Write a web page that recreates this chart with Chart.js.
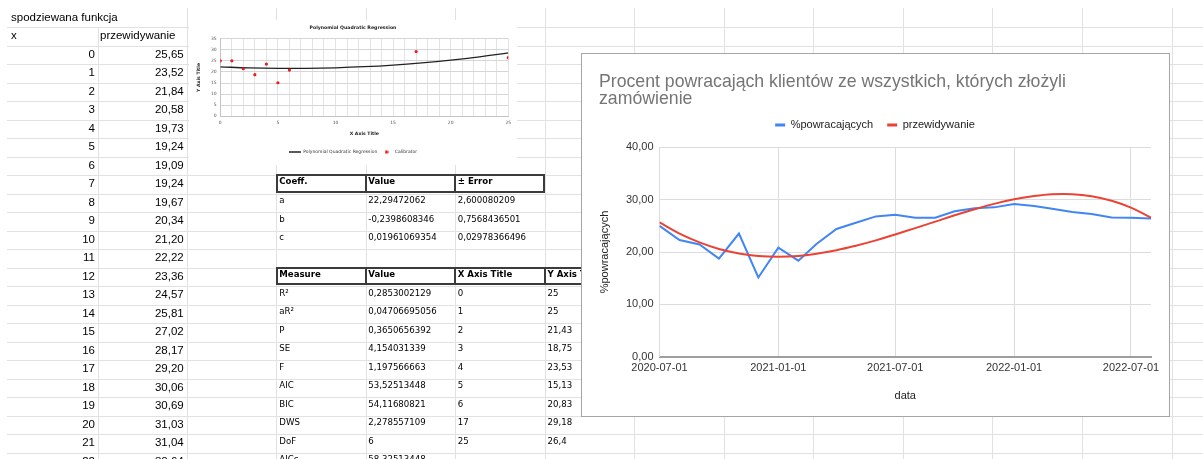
<!DOCTYPE html>
<html>
<head>
<meta charset="utf-8">
<script src="https://cdn.jsdelivr.net/npm/chart.js@4.4.1/dist/chart.umd.min.js"></script>
<style>
html, body { margin: 0; padding: 0; background: #fff; }
body { position: relative; width: 1203px; height: 459px; overflow: hidden; }
#grid { position: absolute; left: 0; top: 0; }
.c { position: absolute; height: 18.5px; line-height: 18.5px; white-space: nowrap; color: #000; }
.ar { font-family: "Liberation Sans", Arial, sans-serif; font-size: 11.5px; }
.tv { font-family: "DejaVu Sans", Verdana, sans-serif; font-size: 8.6px; }
.b { font-weight: bold; }
.hdr { position: absolute; box-sizing: border-box; border: 2px solid #3b3b3b; }
.sep { position: absolute; width: 2px; background: #3b3b3b; }
#reg { position: absolute; left: 189px; top: 20px; background: #fff; }
#box { position: absolute; left: 581px; top: 53px; width: 587px; height: 362px; border: 1px solid #a5a5a5; background: #fff; }
#main { position: absolute; left: 0; top: 0; }
</style>
</head>
<body>
<canvas id="grid" width="1203" height="459"></canvas>
<div id="cells"></div>
<canvas id="reg" width="328" height="145"></canvas>
<div id="box"><canvas id="main" width="587" height="362"></canvas></div>
<script>
// main chart data
const dates = ['2020-07-01','2020-08-01','2020-09-01','2020-10-01','2020-11-01','2020-12-01',
  '2021-01-01','2021-02-01','2021-03-01','2021-04-01','2021-05-01','2021-06-01',
  '2021-07-01','2021-08-01','2021-09-01','2021-10-01','2021-11-01','2021-12-01',
  '2022-01-01','2022-02-01','2022-03-01','2022-04-01','2022-05-01','2022-06-01',
  '2022-07-01','2022-08-01'];
const powracajacych = [25.0, 22.3, 21.43, 18.75, 23.53, 15.13, 20.83, 18.34, 21.53, 24.4, 25.6, 26.8,
  27.13, 26.55, 26.55, 27.77, 28.34, 28.53, 29.17, 28.79, 28.25, 27.64, 27.26, 26.6, 26.55, 26.4];
const przewidywanie = [25.65, 23.52, 21.84, 20.58, 19.73, 19.24, 19.09, 19.24, 19.67, 20.34, 21.20, 22.22,
  23.36, 24.57, 25.81, 27.02, 28.17, 29.20, 30.06, 30.69, 31.03, 31.04, 30.64, 29.78, 28.47, 26.55];
const xTickDates = ['2020-07-01', '2021-01-01', '2021-07-01', '2022-01-01', '2022-07-01'];
const yTickLabels = ['0,00', '10,00', '20,00', '30,00', '40,00'];
const chartTitle = ['Procent powracająch klientów ze wszystkich, których złożyli', 'zamówienie'];

// regression picture data
const calX = [0, 1, 2, 3, 4, 5, 6, 17, 25];
const calY = [25, 25, 21.43, 18.75, 23.53, 15.13, 20.83, 29.18, 26.4];
const regX = [0, 2.5, 5, 7.5, 10, 12.5, 15, 17.5, 20, 22.5, 25];
const regY = [22.29, 21.82, 21.59, 21.6, 21.86, 22.35, 23.09, 24.1, 25.34, 26.82, 28.55];

// tables
const coeffNames = ['a', 'b', 'c'];
const coeffValues = ['22,29472062', '-0,2398608346', '0,01961069354'];
const coeffErrors = ['2,600080209', '0,7568436501', '0,02978366496'];
const measureNames = ['R²', 'aR²', 'P', 'SE', 'F', 'AIC', 'BIC', 'DWS', 'DoF', 'AICc'];
const measureValues = ['0,2853002129', '0,04706695056', '0,3650656392', '4,154031339', '1,197566663',
  '53,52513448', '54,11680821', '2,278557109', '6', '58,32513448'];

const comma = v => String(v).replace('.', ',');

// sheet grid
const colLines = [97.5, 186.5, 276, 365.6, 455.1, 544.7, 634.2, 723.8, 813.3, 902.9, 992.4, 1082, 1171.5];
const g = document.getElementById('grid').getContext('2d');
g.strokeStyle = '#e1e1e1';
g.lineWidth = 1;
g.beginPath();
for (let y = 27; y < 459; y += 18.5) {
  const py = Math.round(y) + 0.5;
  g.moveTo(7, py); g.lineTo(1203, py);
}
colLines.forEach(x => {
  const px = Math.round(x) + 0.5;
  g.moveTo(px, x < 100 ? 27 : 8); g.lineTo(px, 459);
});
g.stroke();

const cells = document.getElementById('cells');
const rowTop = k => 45.5 + 18.5 * k;
function cell(text, x, w, top, cls, align) {
  const d = document.createElement('div');
  d.className = 'c ' + cls;
  d.style.left = x + 'px';
  d.style.top = top + 'px';
  d.style.width = w + 'px';
  d.style.textAlign = align || 'left';
  d.textContent = text;
  cells.appendChild(d);
}
function header(x, w, k, seps) {
  const d = document.createElement('div');
  d.className = 'hdr';
  d.style.left = x + 'px'; d.style.top = (rowTop(k) - 1) + 'px';
  d.style.width = w + 'px'; d.style.height = '18.5px';
  cells.appendChild(d);
  seps.forEach(sx => {
    const s = document.createElement('div');
    s.className = 'sep';
    s.style.left = (sx - 1) + 'px'; s.style.top = (rowTop(k) - 1) + 'px'; s.style.height = '18.5px';
    cells.appendChild(s);
  });
}

// left table
cell('spodziewana funkcja', 11, 200, rowTop(-2) - 0.6, 'ar');
cell('x', 11, 80, rowTop(-1) - 0.6, 'ar');
cell('przewidywanie', 100, 86, rowTop(-1) - 0.6, 'ar');
for (let i = 0; i <= 22; i++) {
  cell(String(i), 7, 88, rowTop(i) - 0.6, 'ar', 'right');
  cell(przewidywanie[i].toFixed(2).replace('.', ','), 97.5, 86.2, rowTop(i) - 0.6, 'ar', 'right');
}

// coefficient table
header(276, 269, 7, [365.6, 455.1]);
cell('Coeff.', 279.3, 85, rowTop(7) - 2.8, 'tv b');
cell('Value', 368.3, 85, rowTop(7) - 2.8, 'tv b');
cell('± Error', 457.7, 85, rowTop(7) - 2.8, 'tv b');
coeffNames.forEach((n, i) => {
  cell(n, 279.3, 85, rowTop(8 + i) - 2.3, 'tv');
  cell(coeffValues[i], 368.3, 85, rowTop(8 + i) - 2.3, 'tv');
  cell(coeffErrors[i], 457.7, 85, rowTop(8 + i) - 2.3, 'tv');
});

// measure table
header(276, 358, 12, [365.6, 455.1, 544.7]);
cell('Measure', 279.3, 85, rowTop(12) - 2.8, 'tv b');
cell('Value', 368.3, 85, rowTop(12) - 2.8, 'tv b');
cell('X Axis Title', 457.7, 85, rowTop(12) - 2.8, 'tv b');
cell('Y Axis Title', 547.5, 85, rowTop(12) - 2.8, 'tv b');
measureNames.forEach((n, i) => {
  cell(n, 279.3, 85, rowTop(13 + i) - 2.3, 'tv');
  cell(measureValues[i], 368.3, 85, rowTop(13 + i) - 2.3, 'tv');
  if (i < calX.length) {
    cell(String(calX[i]), 457.7, 85, rowTop(13 + i) - 2.3, 'tv');
    cell(comma(calY[i]), 547.5, 85, rowTop(13 + i) - 2.3, 'tv');
  }
});

// small regression chart
const dv = '"DejaVu Sans", Verdana, sans-serif';
const dot = document.createElement('canvas');
dot.width = 4; dot.height = 4;
const dc = dot.getContext('2d');
dc.fillStyle = '#f01818';
dc.beginPath(); dc.arc(2, 2, 1.7, 0, Math.PI * 2); dc.fill();

new Chart(document.getElementById('reg'), {
  type: 'line',
  data: {
    datasets: [
      { label: 'Polynomial Quadratic Regression', data: regX.map((x, i) => ({ x: x, y: regY[i] })),
        borderColor: '#222', backgroundColor: '#222', borderWidth: 1.3, pointRadius: 0, tension: 0.4, order: 1 },
      { label: 'Calibrator', data: calX.map((x, i) => ({ x: x, y: calY[i] })),
        showLine: false, pointRadius: 1.6, pointBorderWidth: 0, pointBackgroundColor: '#f01818',
        borderColor: '#f01818', backgroundColor: '#f01818', order: 0 }
    ]
  },
  options: {
    responsive: false, animation: false, events: [],
    layout: { padding: { left: 0, right: 0, top: 0, bottom: 0.7 } },
    plugins: {
      title: { display: true, text: 'Polynomial Quadratic Regression', color: '#222',
        font: { family: dv, size: 4.65, weight: 'bold', lineHeight: 1.2 }, padding: { top: 4.9, bottom: 8.16 } },
      legend: { position: 'bottom',
        labels: { usePointStyle: true, pointStyleWidth: 12, padding: 3.3, color: '#333', font: { family: dv, size: 4.5 },
          sort: (a, b) => a.datasetIndex - b.datasetIndex,
          generateLabels: chart => Chart.defaults.plugins.legend.labels.generateLabels(chart).map(it => {
            if (it.datasetIndex === 0) { it.pointStyle = 'line'; it.strokeStyle = '#222'; it.lineWidth = 1.5; }
            else { it.pointStyle = dot; }
            return it;
          }) } },
      tooltip: { enabled: false }
    },
    scales: {
      x: { type: 'linear', min: 0, max: 25,
        afterFit: s => { s.height = 30.2; s.paddingRight = 8.7; },
        ticks: { stepSize: 1, autoSkip: false, maxRotation: 0, minRotation: 0, padding: 3.7, color: '#555',
          font: { family: dv, size: 4.5 }, callback: v => (v % 5 === 0 ? String(v) : '') },
        grid: { color: '#e3e3e3', drawTicks: false }, border: { color: '#c4c4c4' },
        title: { display: true, text: 'X Axis Title', color: '#222', font: { family: dv, size: 4.6, weight: 'bold', lineHeight: 1.2 },
          padding: { top: 0, bottom: 9.6 } } },
      y: { min: 0, max: 35,
        afterFit: s => { s.width = 31.3; },
        ticks: { stepSize: 5, padding: 3.6, color: '#555', font: { family: dv, size: 4.5 } },
        grid: { color: '#d6d6d6', drawTicks: false }, border: { color: '#c4c4c4' },
        title: { display: true, text: 'Y Axis Title', color: '#222', font: { family: dv, size: 4.6, weight: 'bold', lineHeight: 1.2 },
          padding: { top: 6.7, bottom: 0 } } }
    }
  }
});

// main chart
const ar = '"Liberation Sans", Arial, sans-serif';
const dayOf = d => (Date.parse(d) - Date.parse(dates[0])) / 864e5;

new Chart(document.getElementById('main'), {
  type: 'line',
  data: {
    datasets: [
      { label: '%powracających', data: dates.map((d, i) => ({ x: dayOf(d), y: powracajacych[i] })),
        borderColor: '#4285f4', backgroundColor: '#4285f4', borderWidth: 2, pointRadius: 0, tension: 0, order: 1 },
      { label: 'przewidywanie', data: dates.map((d, i) => ({ x: dayOf(d), y: przewidywanie[i] })),
        borderColor: '#ea4335', backgroundColor: '#ea4335', borderWidth: 2, pointRadius: 0, tension: 0.4, order: 0 }
    ]
  },
  options: {
    responsive: false, animation: false, events: [],
    layout: { padding: { left: 17, right: 18, top: 0, bottom: 0 } },
    plugins: {
      title: { display: true, text: chartTitle, align: 'start', color: '#757575',
        font: { family: ar, size: 17.7, weight: 'normal', lineHeight: 0.995 }, padding: { top: 18.9, bottom: -2.6 } },
      legend: { position: 'top',
        labels: { boxWidth: 10, boxHeight: 3, padding: 14, color: '#222', font: { family: ar, size: 11 },
          sort: (a, b) => a.datasetIndex - b.datasetIndex,
          generateLabels: chart => Chart.defaults.plugins.legend.labels.generateLabels(chart).map(it => Object.assign(it, { lineWidth: 0 })) } },
      tooltip: { enabled: false }
    },
    scales: {
      x: { type: 'linear', min: 0, max: dayOf(dates[dates.length - 1]),
        afterBuildTicks: s => { s.ticks = xTickDates.map(d => ({ value: dayOf(d) })); },
        afterFit: s => { s.height = 59.3; },
        ticks: { autoSkip: false, maxRotation: 0, minRotation: 0, padding: 5, color: '#333',
          font: { family: ar, size: 11 }, callback: (v, i) => xTickDates[i] },
        grid: { color: '#dcdcdc', drawTicks: false }, border: { color: '#9e9e9e', width: 2 },
        title: { display: true, text: 'data', color: '#222', font: { family: ar, size: 11, lineHeight: 1.2 },
          padding: { top: 0, bottom: 13.3 } } },
      // empty spacer between the legend and the plot
      gap: { type: 'linear', position: 'top', afterFit: s => { s.height = 6.8; },
        ticks: { display: false }, grid: { display: false }, border: { display: false } },
      y: { min: 0, max: 40,
        afterFit: s => { s.width = 60.5; },
        ticks: { stepSize: 10, padding: 6, color: '#333', font: { family: ar, size: 11 }, callback: (v, i) => yTickLabels[i] },
        grid: { color: '#dcdcdc', drawTicks: false }, border: { color: '#dcdcdc', width: 1 },
        title: { display: true, text: '%powracających', color: '#222', font: { family: ar, size: 11, lineHeight: 1.0 },
          padding: { top: 0, bottom: 0 } } }
    }
  }
});
</script>
</body>
</html>
